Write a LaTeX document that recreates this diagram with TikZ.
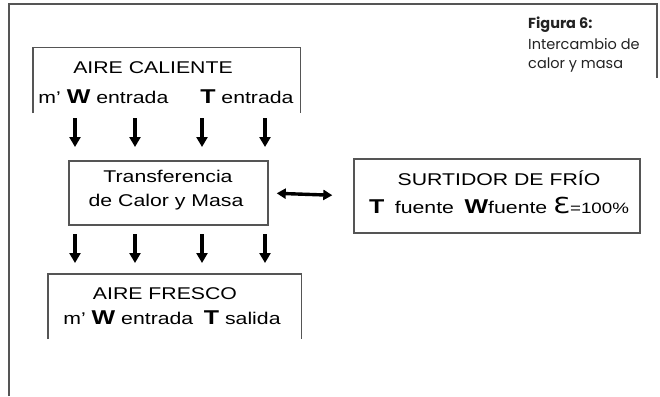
\documentclass[tikz,border=0pt]{standalone}
\usepackage{fontspec}
\setmainfont{Liberation Sans}
\newfontfamily\capfont{Poppins}
\newfontfamily\symfont{DejaVu Sans}
\usetikzlibrary{arrows.meta}
\newcommand\hs[1]{\scalebox{1.25}[1]{#1}}
\newcommand\bw[1]{{\fontsize{20}{20}\selectfont\bfseries #1}}
\definecolor{capcol}{HTML}{222222}
\definecolor{linecol}{HTML}{555555}
\begin{document}
\begin{tikzpicture}[x=1pt,y=-1pt,
  boxline/.style={draw=linecol,line width=1.4pt},
  txt/.style={inner sep=0pt,anchor=base,font=\fontsize{17}{17}\selectfont},
  arr/.style={-{Triangle[width=11pt,length=10pt]},line width=3.6pt,black},
  darr/.style={{Triangle[width=10pt,length=9pt]}-{Triangle[width=10pt,length=9pt]},line width=3.4pt,black},
  captxt/.style={inner sep=0pt,anchor=base west,font=\capfont\fontsize{14.5}{14.5}\selectfont,text=capcol}]
\useasboundingbox (0,0) rectangle (660,396);
% outer frame
\draw[draw=linecol,line width=1.5pt] (9,396) -- (9,4) -- (657,4) -- (657,78);
% caption
\node[captxt] (c1) at (528,29) {\bfseries Figura 6:};
\node[captxt] (c2) at (528,49) {Intercambio de};
\node[captxt] (c3) at (528,68) {calor y masa};
% box 1 (open bottom)
\node[inner sep=0pt,minimum width=267pt,minimum height=65pt] (box1) at (166.5,80.5) {};
\draw[boxline] (box1.south west) -- (box1.north west) -- (box1.north east) -- (box1.south east);
\node[txt] (t11) at (153,74) {\hs{AIRE CALIENTE}};
\node[txt] (t12) at (166,103) {\hs{m' \bw{W} entrada\enspace\quad\bw{T} entrada}};
% arrows row 1
\foreach \i/\x in {1/75,2/135,3/202,4/265}{
  \coordinate (p\i) at (\x,118);
  \coordinate (q\i) at (\x,147);
  \draw[arr] (p\i) -- (q\i);
}
% box 2
\node[boxline,inner sep=0pt,minimum width=199pt,minimum height=64pt] (box2) at (168.5,193) {};
\node[txt] (t21) at (168,182) {\hs{Transferencia}};
\node[txt] (t22) at (166,206) {\hs{de Calor y Masa}};
% box 4
\node[boxline,inner sep=0pt,minimum width=286pt,minimum height=74pt] (box4) at (497,196) {};
\node[txt] (t41) at (499,185) {\hs{SURTIDOR DE FRÍO}};
\node[txt] (t42) at (499,213) {\hs{\bw{T}\enspace fuente\enspace\bw{W}fuente {\symfont\fontsize{22}{22}\selectfont Ɛ}{\fontsize{15}{15}\selectfont =100\%}}};
% double arrow
\draw[darr,shorten <=8pt,shorten >=21pt] (box2.east) -- (box4.west);
% arrows row 2
\foreach \i/\x in {1/75,2/135,3/202,4/265}{
  \coordinate (r\i) at (\x,234);
  \coordinate (s\i) at (\x,263);
  \draw[arr] (r\i) -- (s\i);
}
% box 3 (open bottom)
\node[inner sep=0pt,minimum width=253pt,minimum height=65pt] (box3) at (174.5,306.5) {};
\draw[boxline] (box3.south west) -- (box3.north west) -- (box3.north east) -- (box3.south east);
\node[txt] (t31) at (165,299) {\hs{AIRE FRESCO}};
\node[txt] (t32) at (172,324) {\hs{m' \bw{W} entrada\enspace\bw{T} salida}};
\end{tikzpicture}
\end{document}
